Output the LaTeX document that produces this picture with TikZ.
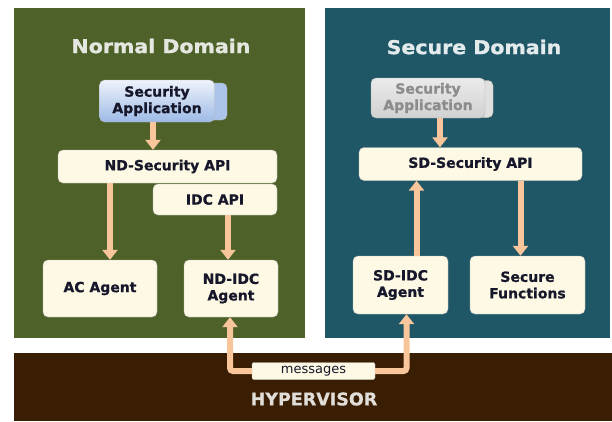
\documentclass[tikz,border=0pt]{standalone}
\usepackage{fontspec}
\setmainfont{DejaVu Sans}[BoldFeatures={FakeBold=0.8}]
\newfontfamily\titlefont{DejaVu Sans}[FakeStretch=1.08, BoldFeatures={FakeBold=1.2}]
\usetikzlibrary{arrows.meta,calc}
\definecolor{ndgreen}{HTML}{4E6128}
\definecolor{sdteal}{HTML}{1F5767}
\definecolor{hvbrown}{HTML}{3A1E04}
\definecolor{cream}{HTML}{FDF9E4}
\definecolor{peach}{HTML}{F9C59B}
\definecolor{boxtext}{HTML}{16172A}
\definecolor{apptop}{HTML}{EEF3FB}
\definecolor{appbot}{HTML}{9DBAE6}
\tikzset{
  panel/.style={inner sep=0pt, draw=none},
  title/.style={font=\titlefont\bfseries\fontsize{19}{21}\selectfont},
  box/.style={rounded corners=5pt, fill=cream, draw=black!25, line width=0.4pt, inner sep=0pt,
    text=boxtext, align=center, font=\bfseries\fontsize{14}{16.5}\selectfont},
  appbox/.style={rounded corners=5pt, inner sep=0pt, align=center, draw=black!30, line width=0.4pt,
    font=\bfseries\fontsize{14}{16.5}\selectfont},
  arr/.style={draw=peach, line width=6pt, -{Triangle[width=15pt,length=10pt]}},
}
\begin{document}
\begin{tikzpicture}[x=1pt,y=-1pt]
\useasboundingbox (0,0) rectangle (612,421);
\fill[white] (0,0) rectangle (612,421);
% panels
\node[panel, fill=ndgreen, minimum width=291pt, minimum height=330pt] (nd) at (159.5,173) {};
\node[panel, fill=sdteal, minimum width=285pt, minimum height=330pt] (sd) at (467.5,173) {};
\node[panel, fill=hvbrown, minimum width=598pt, minimum height=68pt] (hv) at (313,387) {};
% titles
\node[title, text=white!85!ndgreen] (ndtitle) at (161,46) {Normal Domain};
\node[title, text=white!88!sdteal] (sdtitle) at (474,47) {Secure Domain};
\node[font=\bfseries\fontsize{17.5}{19}\selectfont, text=white!85!hvbrown] (hvtitle) at (314,399) {HYPERVISOR};
% normal domain
\node[appbox, fill=appbot!85!white, minimum width=112pt, minimum height=37pt] (app1s) at (171,101.5) {};
\node[appbox, top color=apptop, bottom color=appbot, text=boxtext, minimum width=115pt, minimum height=42pt] (app1) at (157,101) {Security\\Application};
\node[box, minimum width=219pt, minimum height=33pt] (ndapi) at (167.5,166.5) {ND-Security API};
\node[box, minimum width=124pt, minimum height=31pt] (idcapi) at (215,199.5) {IDC API};
\node[box, minimum width=114pt, minimum height=57pt] (ac) at (100,288.5) {AC Agent};
\node[box, minimum width=94pt, minimum height=57pt] (ndidc) at (231,288.5) {ND-IDC\\Agent};
% secure domain
\node[appbox, fill=black!12, draw=orange!40!black!30, minimum width=112pt, minimum height=37pt] (app2s) at (437,99) {};
\node[appbox, top color=black!8, bottom color=black!18, text=black!45, minimum width=114pt, minimum height=40pt] (app2) at (428,98) {Security\\Application};
\node[box, minimum width=223pt, minimum height=33pt] (sdapi) at (470.5,164) {SD-Security API};
\node[box, minimum width=95pt, minimum height=58pt] (sdidc) at (400.5,285) {SD-IDC\\Agent};
\node[box, minimum width=115pt, minimum height=58pt] (secf) at (527.5,285) {Secure\\Functions};
% messages
\node[box, rounded corners=2pt, minimum width=123pt, minimum height=17pt, font=\fontsize{13}{14}\selectfont] (msg) at (313.5,371) {messages};
% arrows
\draw[arr] ([xshift=-4pt]app1.south) -- ([xshift=-4pt]app1.south |- ndapi.north);
\draw[arr] ([xshift=10pt]ac.north |- ndapi.south) -- ([xshift=10pt]ac.north);
\draw[arr] ([xshift=-3pt]ndidc.north |- idcapi.south) -- ([xshift=-3pt]ndidc.north);
\draw[arr] ([xshift=12pt]app2.south) -- ([xshift=12pt]app2.south |- sdapi.north);
\draw[arr] ([xshift=16pt]sdidc.north) -- ([xshift=16pt]sdidc.north |- sdapi.south);
\draw[arr] ([xshift=-7pt]secf.north |- sdapi.south) -- ([xshift=-7pt]secf.north);
\draw[arr, rounded corners=3pt] (msg.west) -| ([xshift=-1pt]ndidc.south);
\draw[arr, rounded corners=3pt] (msg.east) -| ([xshift=6pt]sdidc.south);
\end{tikzpicture}
\end{document}
